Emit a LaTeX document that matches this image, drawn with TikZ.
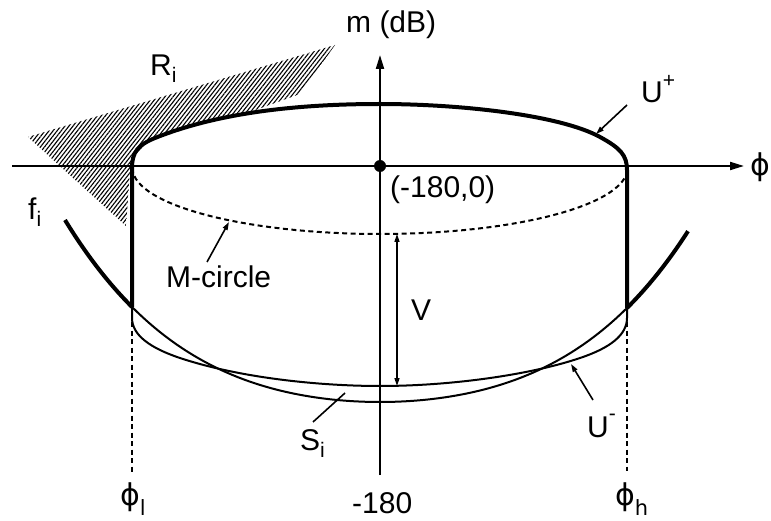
\documentclass[tikz,border=0pt]{standalone}
\usepackage{fontspec}
\setmainfont{Liberation Sans}
\newfontfamily\phifont{DejaVu Sans}
\usetikzlibrary{arrows.meta,patterns.meta}
\newcommand\subx[2][7pt]{\raisebox{-#1}{\fontsize{21}{22}\selectfont #2}}
\newcommand\supx[2][15pt]{\raisebox{#1}{\fontsize{21}{22}\selectfont #2}}
\begin{document}
\begin{tikzpicture}[x=1pt,y=-1pt,
  thickln/.style={line width=4pt},
  thinln/.style={line width=2pt},
  axisln/.style={line width=2pt,-{Triangle[length=14pt,width=8pt]}},
  lead/.style={line width=1.6pt,-{Triangle[length=8pt,width=5pt]}},
  lab/.style={font=\fontsize{30}{33}\selectfont,inner sep=0pt},
  dashln/.style={line width=2pt,dash pattern=on 5pt off 3.5pt},
  declare function={fy(\t)=402-10.74*(\t)*(\t)-0.766*(\t)*(\t)*(\t)*(\t);}]
\useasboundingbox (0,0) rectangle (771,521);
% hatched region R_i
\fill[pattern={Lines[angle=52,distance=3.2pt,line width=1.1pt]}]
  (28,137) -- (335,45) -- (300,94) -- (250,112) -- (190,124) -- (150,140)
  -- (135,155) -- (130,170) -- (126,226) -- cycle;
% axes
\coordinate (ho) at (12,166); \coordinate (he) at (744,166);
\coordinate (vo) at (380,475); \coordinate (ve) at (380,55);
\draw[axisln] (ho) -- (he);
\draw[axisln] (vo) -- (ve);
\node[circle,fill,inner sep=0pt,minimum size=12pt] (org) at (380,166) {};
% M-circle (dashed)
\draw[dashln] plot[domain=180:360,samples=60] ({380+247.5*cos(\x)},{168-66*sin(\x)});
% dashed drop lines
\coordinate (dl1) at (132,322); \coordinate (dl2) at (132,474);
\coordinate (dr1) at (627,322); \coordinate (dr2) at (627,471);
\draw[dashln] (dl1) -- (dl2);
\draw[dashln] (dr1) -- (dr2);
% f_i curve
\draw[thinln] plot[domain=132:627,samples=90] (\x,{fy((\x-380)/100)});
\draw[thickln] plot[domain=65:132,samples=20] (\x,{fy((\x-380)/100)});
\draw[thickln] plot[domain=627:688,samples=20] (\x,{fy((\x-380)/100)});
% U- curve
\draw[thinln] (132,307) -- (132,318) .. controls (132,335) and (150,348) .. (180,358)
  .. controls (240,378) and (320,386) .. (380,386)
  .. controls (450,386) and (530,375) .. (580,358)
  .. controls (610,348) and (627,335) .. (627,318) -- (627,308);
% U+ curve
\draw[thickln,line join=round] (132,307) -- (132,168) .. controls (132,152) and (138,145) .. (155,138)
  .. controls (220,112) and (300,104) .. (380,104)
  .. controls (460,104) and (560,115) .. (600,137)
  .. controls (620,148) and (627,155) .. (627,170) -- (627,308);
% V arrow
\coordinate (vt) at (397,234); \coordinate (vb) at (397,386);
\draw[line width=1.4pt,{Triangle[length=8pt,width=5pt]}-{Triangle[length=8pt,width=5pt]}] (vt) -- (vb);
% leaders
\coordinate (upa) at (627,105); \coordinate (upb) at (596,134);
\draw[lead] (upa) -- (upb);
\coordinate (mca) at (207,262); \coordinate (mcb) at (229,222);
\draw[lead] (mca) -- (mcb);
\coordinate (uma) at (593,400); \coordinate (umb) at (571,364);
\draw[lead] (uma) -- (umb);
\coordinate (sia) at (313,422); \coordinate (sib) at (345,393);
\draw[line width=1.6pt] (sia) -- (sib);
% labels
\node[lab,anchor=base west] (mdb) at (346,33) {m (dB)};
\node[lab,anchor=base west] (ri) at (150,76) {R\subx{i}};
\node[lab,anchor=base west] (up) at (641,103) {U\supx{+}};
\node[lab,anchor=base west] (orgl) at (390,198) {(-180,0)};
\node[lab] (phiax) at (760,167) {\phifont ϕ};
\node[lab,anchor=base west] (fi) at (28,220) {f\subx{i}};
\node[lab,anchor=base west] (mc) at (166,288) {M-circle};
\node[lab,anchor=base west] (vl) at (411,320) {V};
\node[lab,anchor=base west] (si) at (300,450) {S\subx{i}};
\node[lab,anchor=base west] (um) at (587,437) {U\supx[17pt]{-}};
\node[lab,anchor=base west] (phl) at (120,505) {\phifont ϕ\subx[10pt]{l}};
\node[lab,anchor=base west] (m180) at (352,513) {-180};
\node[lab,anchor=base west] (phh) at (615,505) {\phifont ϕ\subx[10pt]{h}};
\end{tikzpicture}
\end{document}
